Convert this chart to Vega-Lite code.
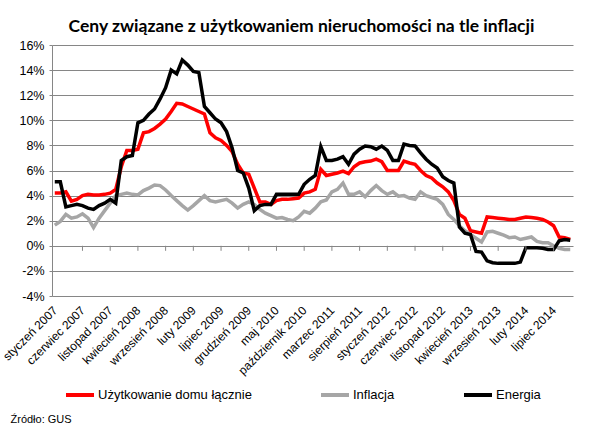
{
  "$schema": "https://vega.github.io/schema/vega-lite/v6.json",
  "autosize": "none",
  "width": 521,
  "height": 251,
  "padding": {"left": 52, "top": 45, "right": 30, "bottom": 138},
  "background": "white",
  "title": {
    "text": "Ceny związane z użytkowaniem nieruchomości na tle inflacji",
    "font": "Lato",
    "fontSize": 17.5,
    "fontWeight": "bold",
    "color": "black",
    "anchor": "middle",
    "dx": -11,
    "offset": 4
  },
  "config": {"font": "Liberation Sans", "view": {"stroke": null}},
  "data": {
    "values": [
      {"miesiac": "styczeń 2007", "Użytkowanie domu łącznie": 4.2, "Inflacja": 1.65, "Energia": 5.1},
      {"miesiac": "luty 2007", "Użytkowanie domu łącznie": 4.2, "Inflacja": 1.95, "Energia": 5.1},
      {"miesiac": "marzec 2007", "Użytkowanie domu łącznie": 4.3, "Inflacja": 2.5, "Energia": 3.1},
      {"miesiac": "kwiecień 2007", "Użytkowanie domu łącznie": 3.55, "Inflacja": 2.2, "Energia": 3.2},
      {"miesiac": "maj 2007", "Użytkowanie domu łącznie": 3.7, "Inflacja": 2.3, "Energia": 3.3},
      {"miesiac": "czerwiec 2007", "Użytkowanie domu łącznie": 4.0, "Inflacja": 2.55, "Energia": 3.2},
      {"miesiac": "lipiec 2007", "Użytkowanie domu łącznie": 4.1, "Inflacja": 2.2, "Energia": 3.0},
      {"miesiac": "sierpień 2007", "Użytkowanie domu łącznie": 4.05, "Inflacja": 1.45, "Energia": 2.9},
      {"miesiac": "wrzesień 2007", "Użytkowanie domu łącznie": 4.05, "Inflacja": 2.2, "Energia": 3.2},
      {"miesiac": "październik 2007", "Użytkowanie domu łącznie": 4.1, "Inflacja": 2.8, "Energia": 3.4},
      {"miesiac": "listopad 2007", "Użytkowanie domu łącznie": 4.2, "Inflacja": 3.4, "Energia": 3.7},
      {"miesiac": "grudzień 2007", "Użytkowanie domu łącznie": 4.5, "Inflacja": 4.0, "Energia": 3.4},
      {"miesiac": "styczeń 2008", "Użytkowanie domu łącznie": 6.3, "Inflacja": 4.1, "Energia": 6.8},
      {"miesiac": "luty 2008", "Użytkowanie domu łącznie": 7.6, "Inflacja": 4.2, "Energia": 7.1},
      {"miesiac": "marzec 2008", "Użytkowanie domu łącznie": 7.6, "Inflacja": 4.1, "Energia": 7.2},
      {"miesiac": "kwiecień 2008", "Użytkowanie domu łącznie": 7.7, "Inflacja": 4.05, "Energia": 9.8},
      {"miesiac": "maj 2008", "Użytkowanie domu łącznie": 9.0, "Inflacja": 4.4, "Energia": 10.0},
      {"miesiac": "czerwiec 2008", "Użytkowanie domu łącznie": 9.1, "Inflacja": 4.6, "Energia": 10.5},
      {"miesiac": "lipiec 2008", "Użytkowanie domu łącznie": 9.35, "Inflacja": 4.85, "Energia": 10.9},
      {"miesiac": "sierpień 2008", "Użytkowanie domu łącznie": 9.7, "Inflacja": 4.8, "Energia": 11.7},
      {"miesiac": "wrzesień 2008", "Użytkowanie domu łącznie": 10.1, "Inflacja": 4.45, "Energia": 12.6},
      {"miesiac": "październik 2008", "Użytkowanie domu łącznie": 10.7, "Inflacja": 4.0, "Energia": 14.0},
      {"miesiac": "listopad 2008", "Użytkowanie domu łącznie": 11.35, "Inflacja": 3.6, "Energia": 13.7},
      {"miesiac": "grudzień 2008", "Użytkowanie domu łącznie": 11.3, "Inflacja": 3.2, "Energia": 14.8},
      {"miesiac": "styczeń 2009", "Użytkowanie domu łącznie": 11.1, "Inflacja": 2.85, "Energia": 14.4},
      {"miesiac": "luty 2009", "Użytkowanie domu łącznie": 10.9, "Inflacja": 3.2, "Energia": 13.9},
      {"miesiac": "marzec 2009", "Użytkowanie domu łącznie": 10.7, "Inflacja": 3.6, "Energia": 13.8},
      {"miesiac": "kwiecień 2009", "Użytkowanie domu łącznie": 10.5, "Inflacja": 4.0, "Energia": 11.1},
      {"miesiac": "maj 2009", "Użytkowanie domu łącznie": 9.0, "Inflacja": 3.6, "Energia": 10.6},
      {"miesiac": "czerwiec 2009", "Użytkowanie domu łącznie": 8.6, "Inflacja": 3.5, "Energia": 10.1},
      {"miesiac": "lipiec 2009", "Użytkowanie domu łącznie": 8.4, "Inflacja": 3.6, "Energia": 9.8},
      {"miesiac": "sierpień 2009", "Użytkowanie domu łącznie": 8.0, "Inflacja": 3.7, "Energia": 9.1},
      {"miesiac": "wrzesień 2009", "Użytkowanie domu łącznie": 7.5, "Inflacja": 3.4, "Energia": 7.8},
      {"miesiac": "październik 2009", "Użytkowanie domu łącznie": 6.5, "Inflacja": 3.0, "Energia": 6.0},
      {"miesiac": "listopad 2009", "Użytkowanie domu łącznie": 5.8, "Inflacja": 3.3, "Energia": 5.8},
      {"miesiac": "grudzień 2009", "Użytkowanie domu łącznie": 5.7, "Inflacja": 3.5, "Energia": 4.6},
      {"miesiac": "styczeń 2010", "Użytkowanie domu łącznie": 4.6, "Inflacja": 3.3, "Energia": 2.8},
      {"miesiac": "luty 2010", "Użytkowanie domu łącznie": 3.5, "Inflacja": 2.9, "Energia": 3.2},
      {"miesiac": "marzec 2010", "Użytkowanie domu łącznie": 3.5, "Inflacja": 2.6, "Energia": 3.3},
      {"miesiac": "kwiecień 2010", "Użytkowanie domu łącznie": 3.3, "Inflacja": 2.4, "Energia": 3.3},
      {"miesiac": "maj 2010", "Użytkowanie domu łącznie": 3.6, "Inflacja": 2.2, "Energia": 4.1},
      {"miesiac": "czerwiec 2010", "Użytkowanie domu łącznie": 3.7, "Inflacja": 2.25, "Energia": 4.1},
      {"miesiac": "lipiec 2010", "Użytkowanie domu łącznie": 3.7, "Inflacja": 2.1, "Energia": 4.1},
      {"miesiac": "sierpień 2010", "Użytkowanie domu łącznie": 3.75, "Inflacja": 2.0, "Energia": 4.1},
      {"miesiac": "wrzesień 2010", "Użytkowanie domu łącznie": 3.8, "Inflacja": 2.3, "Energia": 4.1},
      {"miesiac": "październik 2010", "Użytkowanie domu łącznie": 4.2, "Inflacja": 2.75, "Energia": 4.9},
      {"miesiac": "listopad 2010", "Użytkowanie domu łącznie": 4.3, "Inflacja": 2.6, "Energia": 5.3},
      {"miesiac": "grudzień 2010", "Użytkowanie domu łącznie": 4.5, "Inflacja": 3.0, "Energia": 5.6},
      {"miesiac": "styczeń 2011", "Użytkowanie domu łącznie": 6.1, "Inflacja": 3.5, "Energia": 7.9},
      {"miesiac": "luty 2011", "Użytkowanie domu łącznie": 5.6, "Inflacja": 3.65, "Energia": 6.8},
      {"miesiac": "marzec 2011", "Użytkowanie domu łącznie": 5.7, "Inflacja": 4.3, "Energia": 6.8},
      {"miesiac": "kwiecień 2011", "Użytkowanie domu łącznie": 5.8, "Inflacja": 4.5, "Energia": 6.9},
      {"miesiac": "maj 2011", "Użytkowanie domu łącznie": 5.95, "Inflacja": 5.0, "Energia": 7.1},
      {"miesiac": "czerwiec 2011", "Użytkowanie domu łącznie": 5.75, "Inflacja": 4.1, "Energia": 6.5},
      {"miesiac": "lipiec 2011", "Użytkowanie domu łącznie": 6.3, "Inflacja": 4.1, "Energia": 7.3},
      {"miesiac": "sierpień 2011", "Użytkowanie domu łącznie": 6.6, "Inflacja": 4.3, "Energia": 7.7},
      {"miesiac": "wrzesień 2011", "Użytkowanie domu łącznie": 6.7, "Inflacja": 3.9, "Energia": 7.95},
      {"miesiac": "październik 2011", "Użytkowanie domu łącznie": 6.75, "Inflacja": 4.4, "Energia": 7.9},
      {"miesiac": "listopad 2011", "Użytkowanie domu łącznie": 6.9, "Inflacja": 4.8, "Energia": 7.7},
      {"miesiac": "grudzień 2011", "Użytkowanie domu łącznie": 6.7, "Inflacja": 4.4, "Energia": 7.95},
      {"miesiac": "styczeń 2012", "Użytkowanie domu łącznie": 6.0, "Inflacja": 4.1, "Energia": 7.6},
      {"miesiac": "luty 2012", "Użytkowanie domu łącznie": 6.0, "Inflacja": 4.3, "Energia": 6.8},
      {"miesiac": "marzec 2012", "Użytkowanie domu łącznie": 6.0, "Inflacja": 3.95, "Energia": 6.8},
      {"miesiac": "kwiecień 2012", "Użytkowanie domu łącznie": 6.75, "Inflacja": 4.0, "Energia": 8.1},
      {"miesiac": "maj 2012", "Użytkowanie domu łącznie": 6.6, "Inflacja": 3.8, "Energia": 8.0},
      {"miesiac": "czerwiec 2012", "Użytkowanie domu łącznie": 6.5, "Inflacja": 3.7, "Energia": 7.95},
      {"miesiac": "lipiec 2012", "Użytkowanie domu łącznie": 6.0, "Inflacja": 4.3, "Energia": 7.4},
      {"miesiac": "sierpień 2012", "Użytkowanie domu łącznie": 5.6, "Inflacja": 4.0, "Energia": 6.9},
      {"miesiac": "wrzesień 2012", "Użytkowanie domu łącznie": 5.4, "Inflacja": 3.85, "Energia": 6.5},
      {"miesiac": "październik 2012", "Użytkowanie domu łącznie": 5.0, "Inflacja": 3.7, "Energia": 6.2},
      {"miesiac": "listopad 2012", "Użytkowanie domu łącznie": 4.7, "Inflacja": 3.3, "Energia": 5.5},
      {"miesiac": "grudzień 2012", "Użytkowanie domu łącznie": 4.3, "Inflacja": 2.5, "Energia": 5.2},
      {"miesiac": "styczeń 2013", "Użytkowanie domu łącznie": 3.6, "Inflacja": 2.1, "Energia": 5.0},
      {"miesiac": "luty 2013", "Użytkowanie domu łącznie": 2.5, "Inflacja": 1.6, "Energia": 1.5},
      {"miesiac": "marzec 2013", "Użytkowanie domu łącznie": 2.2, "Inflacja": 1.2, "Energia": 1.0},
      {"miesiac": "kwiecień 2013", "Użytkowanie domu łącznie": 1.2, "Inflacja": 0.9, "Energia": 0.9},
      {"miesiac": "maj 2013", "Użytkowanie domu łącznie": 1.1, "Inflacja": 0.6, "Energia": -0.45},
      {"miesiac": "czerwiec 2013", "Użytkowanie domu łącznie": 1.0, "Inflacja": 0.3, "Energia": -0.5},
      {"miesiac": "lipiec 2013", "Użytkowanie domu łącznie": 2.3, "Inflacja": 1.1, "Energia": -1.2},
      {"miesiac": "sierpień 2013", "Użytkowanie domu łącznie": 2.25, "Inflacja": 1.15, "Energia": -1.35},
      {"miesiac": "wrzesień 2013", "Użytkowanie domu łącznie": 2.2, "Inflacja": 1.0, "Energia": -1.4},
      {"miesiac": "październik 2013", "Użytkowanie domu łącznie": 2.15, "Inflacja": 0.85, "Energia": -1.4},
      {"miesiac": "listopad 2013", "Użytkowanie domu łącznie": 2.1, "Inflacja": 0.65, "Energia": -1.4},
      {"miesiac": "grudzień 2013", "Użytkowanie domu łącznie": 2.1, "Inflacja": 0.7, "Energia": -1.4},
      {"miesiac": "styczeń 2014", "Użytkowanie domu łącznie": 2.2, "Inflacja": 0.5, "Energia": -1.3},
      {"miesiac": "luty 2014", "Użytkowanie domu łącznie": 2.3, "Inflacja": 0.6, "Energia": -0.15},
      {"miesiac": "marzec 2014", "Użytkowanie domu łącznie": 2.25, "Inflacja": 0.7, "Energia": -0.15},
      {"miesiac": "kwiecień 2014", "Użytkowanie domu łącznie": 2.2, "Inflacja": 0.35, "Energia": -0.15},
      {"miesiac": "maj 2014", "Użytkowanie domu łącznie": 2.1, "Inflacja": 0.25, "Energia": -0.2},
      {"miesiac": "czerwiec 2014", "Użytkowanie domu łącznie": 1.9, "Inflacja": 0.25, "Energia": -0.3},
      {"miesiac": "lipiec 2014", "Użytkowanie domu łącznie": 1.6, "Inflacja": 0.0, "Energia": -0.3},
      {"miesiac": "sierpień 2014", "Użytkowanie domu łącznie": 0.7, "Inflacja": -0.2, "Energia": 0.4},
      {"miesiac": "wrzesień 2014", "Użytkowanie domu łącznie": 0.65, "Inflacja": -0.3, "Energia": 0.5},
      {"miesiac": "październik 2014", "Użytkowanie domu łącznie": 0.5, "Inflacja": -0.3, "Energia": 0.45}
    ]
  },
  "transform": [
    {"fold": ["Użytkowanie domu łącznie", "Inflacja", "Energia"], "as": ["seria", "wartosc"]}
  ],
  "resolve": {"axis": {"x": "independent", "y": "independent"}},
  "layer": [
    {
      "mark": {"type": "line", "strokeWidth": 3.5},
      "encoding": {
        "x": {
          "field": "miesiac",
          "type": "ordinal",
          "sort": null,
          "scale": {"type": "point", "padding": 0.5},
          "axis": {
            "orient": "bottom",
            "values": ["styczeń 2007", "czerwiec 2007", "listopad 2007", "kwiecień 2008", "wrzesień 2008", "luty 2009", "lipiec 2009", "grudzień 2009", "maj 2010", "październik 2010", "marzec 2011", "sierpień 2011", "styczeń 2012", "czerwiec 2012", "listopad 2012", "kwiecień 2013", "wrzesień 2013", "luty 2014", "lipiec 2014"],
            "labelAngle": -45,
            "labelAlign": "right",
            "labelBaseline": "middle",
            "labelFontSize": 12,
            "labelColor": "black",
            "labelPadding": 12,
            "labelOverlap": false,
            "labelBound": false,
            "ticks": false,
            "domain": false,
            "grid": false,
            "title": "Źródło: GUS",
            "titleFontSize": 11,
            "titleFontWeight": "normal",
            "titleColor": "black",
            "titleAnchor": "start",
            "titleAlign": "left",
            "titleBaseline": "alphabetic",
            "titleX": -42,
            "titleY": 126
          }
        },
        "y": {
          "field": "wartosc",
          "type": "quantitative",
          "scale": {"domain": [-4, 16], "nice": false},
          "axis": {
            "orient": "left",
            "values": [-4, -2, 0, 2, 4, 6, 8, 10, 12, 14, 16],
            "labelExpr": "datum.value + '%'",
            "labelOverlap": false,
            "title": null,
            "grid": true,
            "gridColor": "#868686",
            "gridOpacity": 1,
            "gridWidth": 1,
            "domainColor": "#868686",
            "tickColor": "#868686",
            "tickSize": 3,
            "labelPadding": 5,
            "labelFontSize": 12.5,
            "labelColor": "black"
          }
        },
        "color": {
          "field": "seria",
          "type": "nominal",
          "scale": {
            "domain": ["Użytkowanie domu łącznie", "Inflacja", "Energia"],
            "range": ["#FF0000", "#A6A6A6", "#000000"]
          },
          "legend": {
            "orient": "none",
            "legendX": 12,
            "legendY": 334,
            "direction": "horizontal",
            "title": null,
            "symbolType": "stroke",
            "symbolSize": 784,
            "symbolStrokeWidth": 4,
            "labelFontSize": 13,
            "labelColor": "black",
            "labelOffset": 2,
            "columnPadding": 61
          }
        }
      }
    },
    {
      "transform": [
        {"filter": {"field": "seria", "equal": "Energia"}},
        {"filter": {"field": "miesiac", "oneOf": ["czerwiec 2007", "listopad 2007", "kwiecień 2008", "wrzesień 2008", "luty 2009", "lipiec 2009", "grudzień 2009", "maj 2010", "październik 2010", "marzec 2011", "sierpień 2011", "styczeń 2012", "czerwiec 2012", "listopad 2012", "kwiecień 2013", "wrzesień 2013", "luty 2014", "lipiec 2014"]}}
      ],
      "mark": {"type": "rule", "color": "#868686", "strokeWidth": 1},
      "encoding": {
        "x": {"field": "miesiac", "type": "ordinal", "sort": null, "axis": null},
        "y": {"datum": 0, "type": "quantitative", "axis": null},
        "y2": {"datum": -0.4}
      }
    }
  ]
}
